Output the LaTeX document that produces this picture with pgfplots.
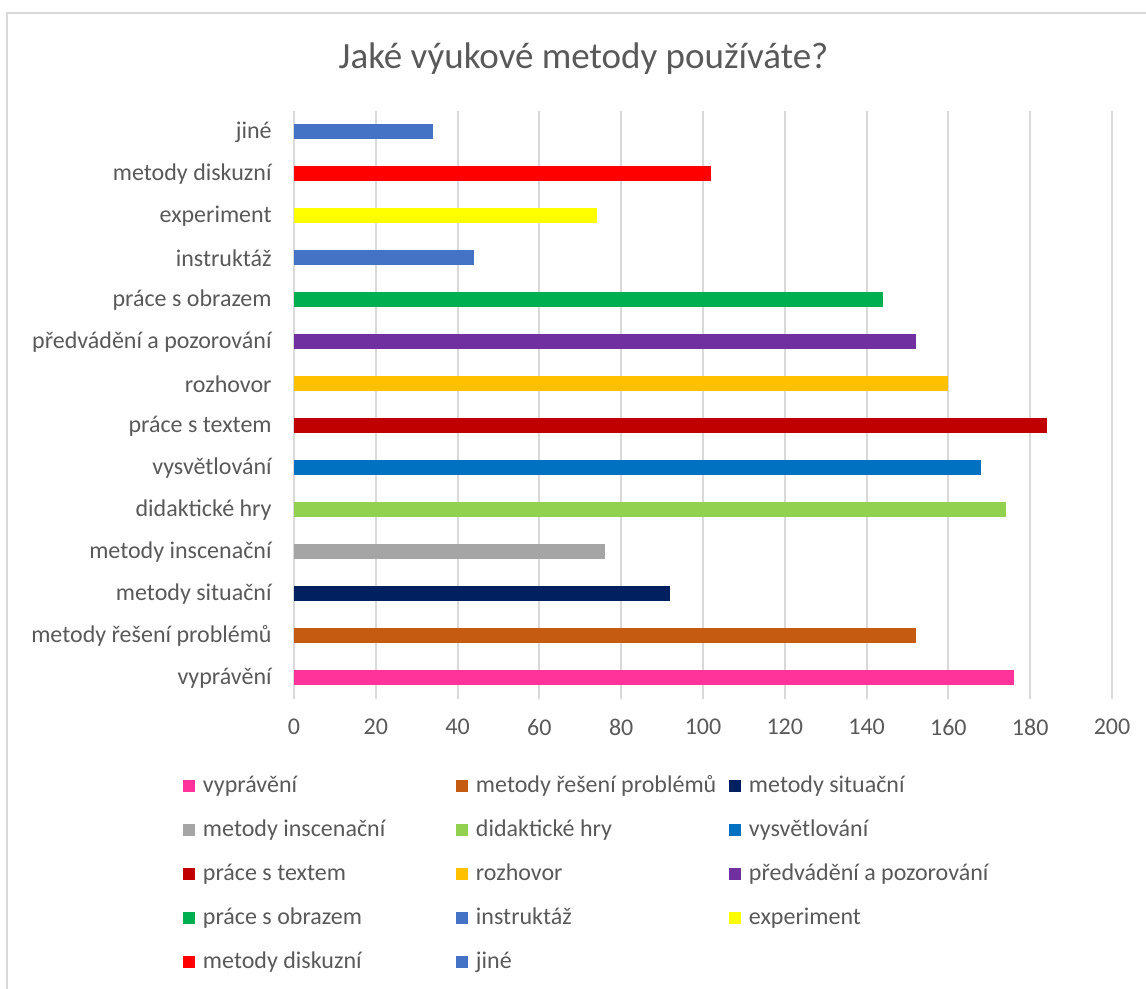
\documentclass[border=0pt]{standalone}
\usepackage{pgfplots}
\pgfplotsset{compat=1.18}
\usepackage{fontspec}
\setmainfont{Carlito}
\definecolor{txt}{HTML}{595959}
\definecolor{gridc}{HTML}{D9D9D9}
\definecolor{c1}{HTML}{FF3399}
\definecolor{c2}{HTML}{C55A11}
\definecolor{c3}{HTML}{002060}
\definecolor{c4}{HTML}{A5A5A5}
\definecolor{c5}{HTML}{92D050}
\definecolor{c6}{HTML}{0070C0}
\definecolor{c7}{HTML}{C00000}
\definecolor{c8}{HTML}{FFC000}
\definecolor{c9}{HTML}{7030A0}
\definecolor{c10}{HTML}{00B050}
\definecolor{c11}{HTML}{4472C4}
\definecolor{c12}{HTML}{FFFF00}
\definecolor{c13}{HTML}{FF0000}
\definecolor{c14}{HTML}{4472C4}
\newcommand{\legE}[1]{\makebox[126.5pt][l]{#1}}
\begin{document}
\begin{tikzpicture}
\begin{axis}[
  scale only axis, width=409pt, height=294pt,
  at={(0,0)}, anchor=south west,
  xbar, bar width=7.5pt, bar shift=0pt,
  xmin=0, xmax=200, ymin=-0.5, ymax=13.5,
  xtick={0,20,...,200}, ytick={0,...,13},
  yticklabels={vyprávění\ ,metody řešení problémů\ ,metody situační,metody inscenační\ ,didaktické hry,vysvětlování,práce s textem,rozhovor,předvádění a pozorování,práce s obrazem,instruktáž,experiment,metody diskuzní,jiné},
  axis line style={draw=none},
  major tick length=0pt,
  xmajorgrids, major grid style={gridc, line width=1pt},
  tick label style={font=\fontsize{12}{15}\selectfont, text=txt, inner sep=0pt},
  yticklabel shift=11pt, xticklabel shift=10pt,
  /pgf/number format/assume math mode=true,
  legend columns=3,
  legend cell align=left,
  legend style={at={(axis description cs:-0.1357,-0.1105)}, anchor=north west,
    draw=none, fill=none, inner sep=0pt, outer sep=0pt,
    font=\fontsize{12}{15}\selectfont, text=txt,
    row sep=0pt, column sep=0pt,
    nodes={inner sep=0pt, minimum height=22pt},
    /tikz/every odd column/.append style={column sep=4pt}},
  legend image code/.code={\fill[#1,draw=none] (0pt,-3pt) rectangle (6pt,3pt);},
]
\addplot[fill=c1,draw=none] coordinates {(176,0)}; \addlegendentry{\legE{vyprávění}}
\addplot[fill=c2,draw=none] coordinates {(152,1)}; \addlegendentry{\legE{metody řešení problémů}}
\addplot[fill=c3,draw=none] coordinates {(92,2)}; \addlegendentry{\legE{metody situační}}
\addplot[fill=c4,draw=none] coordinates {(76,3)}; \addlegendentry{\legE{metody inscenační}}
\addplot[fill=c5,draw=none] coordinates {(174,4)}; \addlegendentry{\legE{didaktické hry}}
\addplot[fill=c6,draw=none] coordinates {(168,5)}; \addlegendentry{\legE{vysvětlování}}
\addplot[fill=c7,draw=none] coordinates {(184,6)}; \addlegendentry{\legE{práce s textem}}
\addplot[fill=c8,draw=none] coordinates {(160,7)}; \addlegendentry{\legE{rozhovor}}
\addplot[fill=c9,draw=none] coordinates {(152,8)}; \addlegendentry{\legE{předvádění a pozorování}}
\addplot[fill=c10,draw=none] coordinates {(144,9)}; \addlegendentry{\legE{práce s obrazem}}
\addplot[fill=c11,draw=none] coordinates {(44,10)}; \addlegendentry{\legE{instruktáž}}
\addplot[fill=c12,draw=none] coordinates {(74,11)}; \addlegendentry{\legE{experiment}}
\addplot[fill=c13,draw=none] coordinates {(102,12)}; \addlegendentry{\legE{metody diskuzní}}
\addplot[fill=c14,draw=none] coordinates {(34,13)}; \addlegendentry{\legE{jiné}}
\end{axis}
\node[anchor=base, font=\fontsize{18.5}{22}\selectfont, text=txt] at (144.75pt,315pt) {Jaké výukové metody používáte?};
\draw[gridc, line width=1pt] (-143.5pt,-145pt) -- (-143.5pt,343pt) -- (426pt,343pt);
\pgfresetboundingbox
\path (-147pt,-145pt) rectangle (426pt,349.5pt);
\end{tikzpicture}
\end{document}
